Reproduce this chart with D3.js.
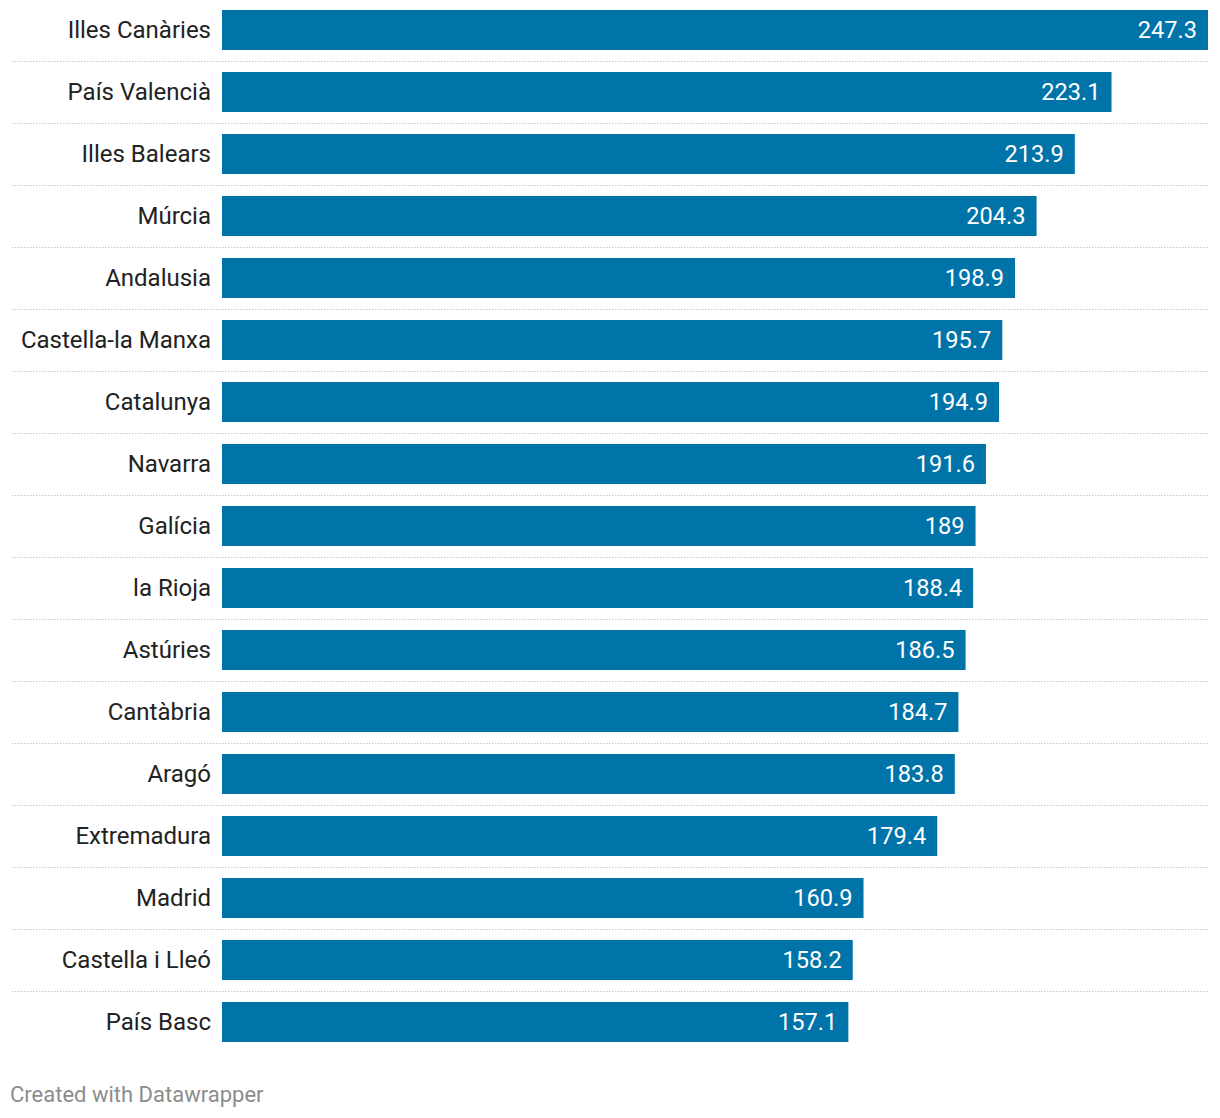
<!DOCTYPE html>
<html><head><meta charset="utf-8">
<script src="https://cdn.jsdelivr.net/npm/d3@7"></script>
<style>body{margin:0;background:#fff;}svg{display:block;font-family:Roboto,sans-serif;}</style>
</head><body>
<svg id="c" width="1220" height="1118"></svg>
<script>
const categories = ["Illes Canàries","País Valencià","Illes Balears","Múrcia","Andalusia","Castella-la Manxa","Catalunya","Navarra","Galícia","la Rioja","Astúries","Cantàbria","Aragó","Extremadura","Madrid","Castella i Lleó","País Basc"];
const values = [247.3,223.1,213.9,204.3,198.9,195.7,194.9,191.6,189,188.4,186.5,184.7,183.8,179.4,160.9,158.2,157.1];
const valueLabels = ["247.3","223.1","213.9","204.3","198.9","195.7","194.9","191.6","189","188.4","186.5","184.7","183.8","179.4","160.9","158.2","157.1"];
const footer = "Created with Datawrapper";

(function(){
const svg = d3.select("#c");
const x = d3.scaleLinear().domain([0, d3.max(values)]).range([222, 1208]);
const y = d3.scaleBand().domain(categories).range([0, 62*categories.length]).paddingInner(0).paddingOuter(0);
const barH = 40, topOff = 10;

const g = svg.append("g");
g.selectAll("line.sep").data(categories.slice(0,-1)).join("line")
  .attr("x1",12).attr("x2",1208)
  .attr("y1",d=>y(d)+topOff+barH+11.5).attr("y2",d=>y(d)+topOff+barH+11.5)
  .attr("stroke","#c8c8c8").attr("stroke-width",1).attr("stroke-dasharray","1.5,1.5");

g.selectAll("rect").data(categories).join("rect")
  .attr("x",x(0)).attr("y",d=>y(d)+topOff)
  .attr("width",(d,i)=>x(values[i])-x(0)).attr("height",barH)
  .attr("fill","#0073a8");

g.selectAll("text.lab").data(categories).join("text").attr("class","lab")
  .attr("x",211).attr("y",d=>y(d)+topOff+barH/2).attr("dy","0.35em")
  .attr("text-anchor","end").attr("font-size",24).attr("fill","#222")
  .text(d=>d);

g.selectAll("text.val").data(categories).join("text").attr("class","val")
  .attr("x",(d,i)=>x(values[i])-11).attr("y",d=>y(d)+topOff+barH/2).attr("dy","0.35em")
  .attr("text-anchor","end").attr("font-size",23.6).attr("fill","#fff")
  .text((d,i)=>valueLabels[i]);

svg.append("text").attr("x",10).attr("y",1102).attr("font-size",22).attr("fill","#8c8c8c").text(footer);
})();
</script>
</body></html>
